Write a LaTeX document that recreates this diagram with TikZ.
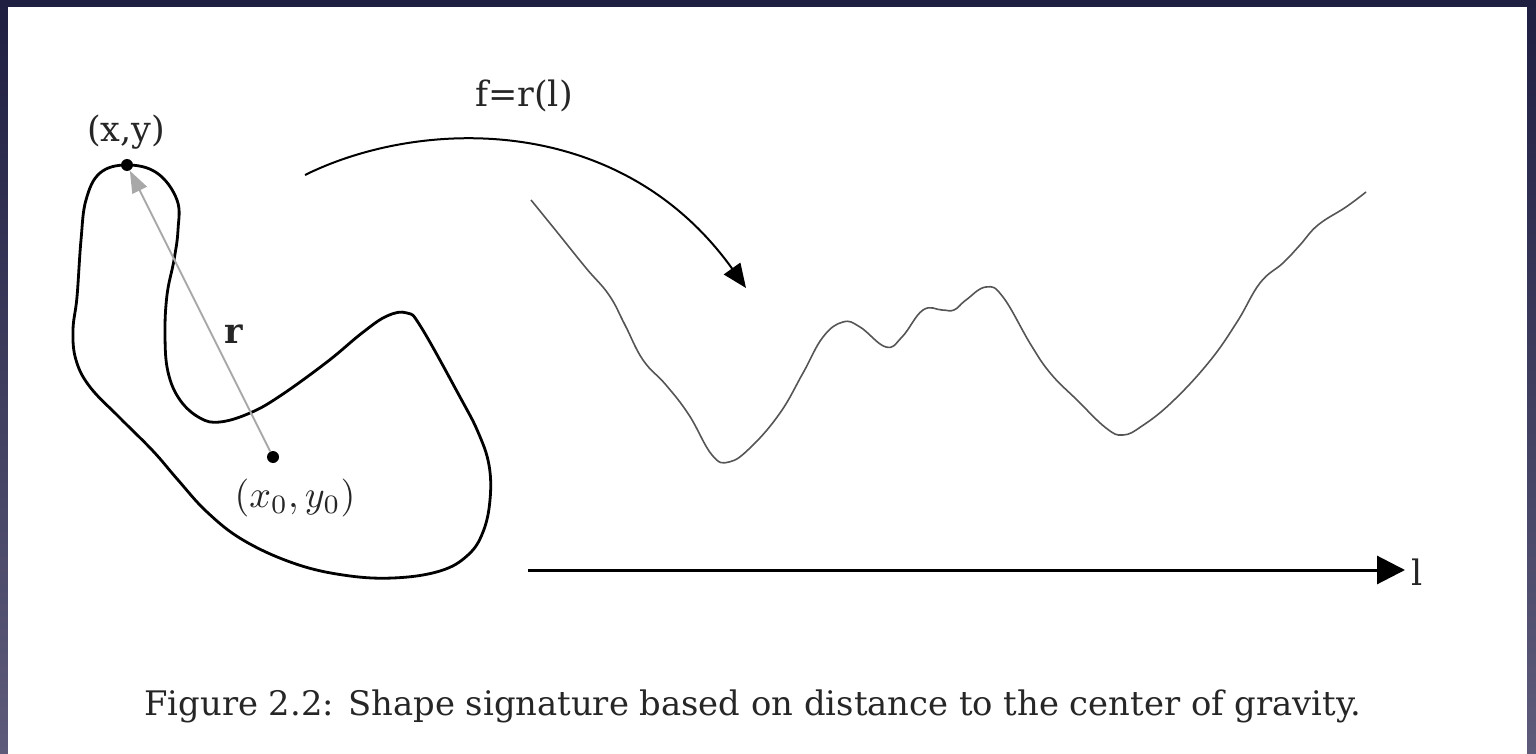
\documentclass[tikz,border=0pt]{standalone}
\usepackage{graphicx}
\usepackage{fontspec}
\setmainfont{DejaVu Serif}
\usetikzlibrary{arrows.meta}
\definecolor{bgtop}{HTML}{1F1F42}
\definecolor{bgbot}{HTML}{5E5B7A}
\definecolor{siggray}{HTML}{555555}
\definecolor{rgray}{HTML}{A8A8A8}
\tikzset{
  lbl/.style={inner sep=0pt, text=black!85, font=\fontsize{17.5}{21}\selectfont},
  dot/.style={circle, fill=black, inner sep=0pt, minimum size=6pt},
  shapeline/.style={line width=1.4pt, black},
  sigline/.style={line width=0.8pt, siggray},
  arcarrow/.style={line width=1pt, -{Triangle[length=12pt,width=10pt]}},
  axisarrow/.style={line width=1.5pt, -{Triangle[length=14pt,width=14pt]}},
  rarrow/.style={line width=0.9pt, rgray, -{Triangle[length=11pt,width=8pt]}}
}
\begin{document}
\begin{tikzpicture}[x=0.5pt,y=-0.5pt]
\useasboundingbox (0,0) rectangle (1536,754);
\shade[top color=bgtop, bottom color=bgbot] (0,0) rectangle (1536,754);
\fill[white] (8,7) rectangle (1527,754);

% closed shape
\draw[shapeline] plot[smooth cycle, tension=0.65] coordinates {
 (127,165) (157,173) (177,200) (178,230) (174,260) (167,295) (165,335)
 (168,372) (180,400) (200,418) (220,422) (250,413) (280,396) (327,362)
 (362,333) (387,316) (407,313) (421,327) (460,397) (478,432)
 (489,465) (490,500) (483,532) (468,555) (440,571) (393,578) (343,575)
 (293,563) (243,540) (207,512) (178,480) (153,451) (120,418) (90,387)
 (76,360) (73,330) (77,297) (81,240) (86,200) (100,173)};

% points and radius
\node[dot] (p) at (127,165) {};
\node[dot] (c) at (273,457) {};
\draw[rarrow] (c) -- (p);
\node[lbl] (plbl) at (126,132) {(x,y)};
\node[lbl] (clbl) at (295,498) {\scalebox{1.9}{\normalsize$(x_0,y_0)$}};
\node[lbl] (rlbl) at (234,334) {\textbf{r}};

% mapping arrow
\coordinate (arcS) at (305,175);
\coordinate (arcE) at (746,288);
\draw[arcarrow] (arcS) .. controls (420,118) and (620,112) .. (arcE);
\node[lbl] (flbl) at (524,96) {f=r(l)};

% signature
\draw[sigline] plot[smooth, tension=0.7] coordinates {
 (531,200) (557,232) (586,268) (609,295) (625,325) (643,360) (666,385)
 (689,415) (712,455) (729,462) (751,447) (780,413) (803,373) (823,337)
 (843,322) (860,327) (886,347) (902,337) (923,310) (942,310) (954,310)
 (966,300) (986,287) (1003,297) (1031,345) (1051,374) (1077,400)
 (1106,428) (1123,435) (1142,426) (1172,402) (1209,362) (1237,322)
 (1260,283) (1283,263) (1300,245) (1318,225) (1346,207) (1366,192)};

% axis
\coordinate (axS) at (528,570);
\node[lbl, anchor=west, inner sep=3pt] (llbl) at (1405,572) {l};
\draw[axisarrow] (axS) -- (axS -| llbl.west);

% caption
\node[lbl, anchor=base, font=\fontsize{16.9}{20}\selectfont] (cap) at (753,715) {Figure 2.2: Shape signature based on distance to the center of gravity.};
\end{tikzpicture}
\end{document}
